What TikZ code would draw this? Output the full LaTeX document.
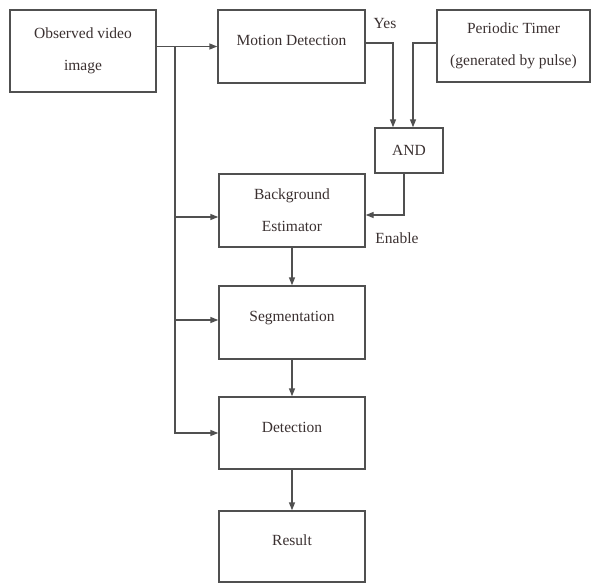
\documentclass[tikz,border=0pt]{standalone}
\usepackage{fontspec}
\setmainfont{Liberation Serif}
\usetikzlibrary{arrows.meta}
\definecolor{ln}{HTML}{505050}
\definecolor{tx}{HTML}{3A3030}
\begin{document}
\begin{tikzpicture}[x=1pt,y=-1pt,
  box/.style={draw=ln,line width=1.4pt,rectangle,inner sep=0pt,align=center,
    text=tx,font=\fontsize{15.5}{32}\selectfont},
  arr/.style={draw=ln,line width=1.4pt,-{Triangle[length=8pt,width=6pt]}},
  lbl/.style={text=tx,font=\fontsize{15.5}{32}\selectfont,inner sep=0pt}]
\useasboundingbox (0,0) rectangle (591,583);
\node[box,minimum width=146pt,minimum height=82pt] (obs) at (83,51) {Observed video\\image};
\node[box,minimum width=147pt,minimum height=73pt] (motion) at (291.5,46.5) {\raisebox{12pt}{Motion Detection}};
\node[box,minimum width=153pt,minimum height=72pt] (timer) at (513.5,46) {Periodic Timer\\(generated by pulse)};
\node[box,minimum width=68pt,minimum height=45pt] (and) at (409,150.5) {AND};
\node[box,minimum width=146pt,minimum height=73pt] (bg) at (292,210.5) {Background\\Estimator};
\node[box,minimum width=146pt,minimum height=73pt] (seg) at (292,322.5) {\raisebox{12pt}{Segmentation}};
\node[box,minimum width=146pt,minimum height=72pt] (det) at (292,433) {\raisebox{11pt}{Detection}};
\node[box,minimum width=146pt,minimum height=71pt] (res) at (292,546.5) {\raisebox{12pt}{Result}};
% bus
\coordinate (bustop) at (175,46.5);
\coordinate (busbot) at (175,433);
\coordinate (ybg) at (175,217);
\coordinate (yseg) at (175,320);
\draw[arr] (obs.east |- motion.west) -- (motion.west);
\draw[arr] (bustop) -- (busbot) -- (det.west);
\draw[arr] (ybg) -- (bg.west |- ybg);
\draw[arr] (yseg) -- (seg.west |- yseg);
% motion -> and
\coordinate (m1) at (365,43);
\coordinate (m2) at (393,43);
\coordinate (t1) at (437,43);
\coordinate (t2) at (413,43);
\draw[arr] (m1) -- (m2) -- (m2 |- and.north);
\draw[arr] (t1) -- (t2) -- (t2 |- and.north);
\node[lbl] (yes) at (385,24) {Yes};
% and -> bg
\coordinate (a1) at (404,173);
\coordinate (a2) at (404,215);
\draw[arr] (a1) -- (a2) -- (bg.east |- a2);
\node[lbl] (enable) at (397,238) {Enable};
% vertical chain
\draw[arr] (bg.south) -- (seg.north);
\draw[arr] (seg.south) -- (det.north);
\draw[arr] (det.south) -- (res.north);
\end{tikzpicture}
\end{document}
